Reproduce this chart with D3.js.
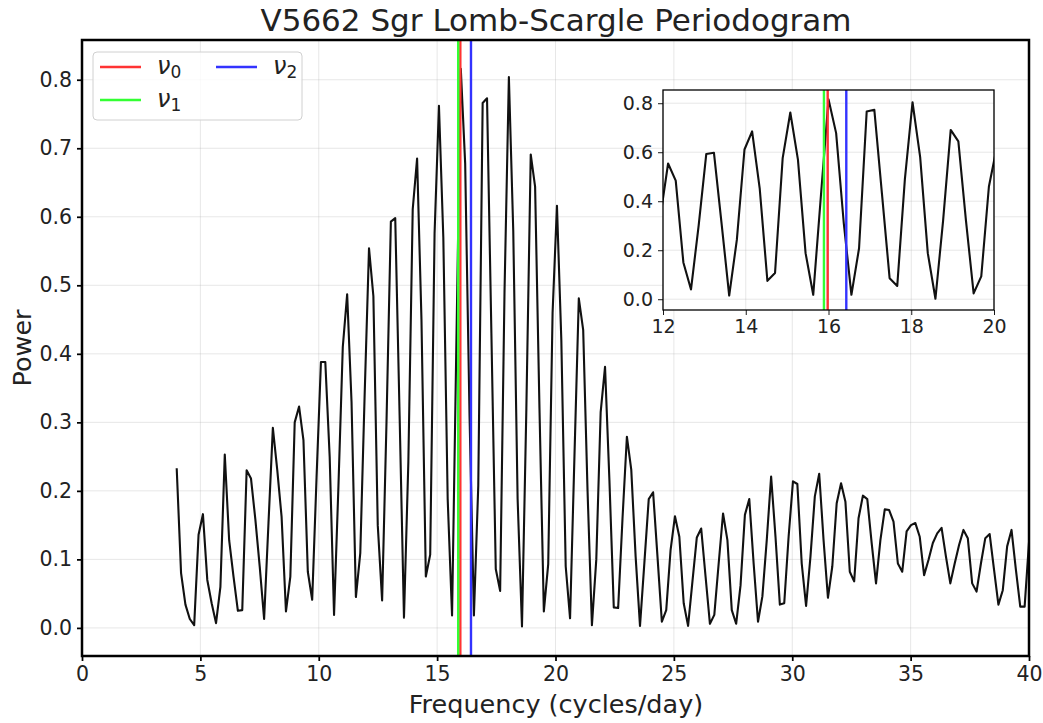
<!DOCTYPE html>
<html>
<head>
<meta charset="utf-8">
<script src="https://cdn.jsdelivr.net/npm/d3@7"></script>
<style>
  body { margin: 0; background: #fff; }
  text { font-family: "DejaVu Sans", sans-serif; fill: #222; }
</style>
</head>
<body>
<svg id="chart" width="1043" height="723"></svg>
<script>
// periodogram power, one value per frequency sample (4 .. 40 cycles/day)
const power = [
  0.233, 0.080, 0.034, 0.013, 0.004, 0.136, 0.166, 0.070, 0.036, 0.007,
  0.060, 0.253, 0.128, 0.075, 0.025, 0.026, 0.230, 0.218, 0.158, 0.089,
  0.013, 0.153, 0.292, 0.231, 0.162, 0.024, 0.075, 0.300, 0.323, 0.274,
  0.082, 0.041, 0.220, 0.388, 0.388, 0.250, 0.019, 0.206, 0.410, 0.487,
  0.330, 0.045, 0.109, 0.340, 0.554, 0.484, 0.150, 0.040, 0.300, 0.593,
  0.598, 0.310, 0.015, 0.242, 0.611, 0.685, 0.450, 0.075, 0.107, 0.576,
  0.762, 0.570, 0.188, 0.018, 0.420, 0.816, 0.678, 0.310, 0.018, 0.208,
  0.766, 0.773, 0.430, 0.086, 0.054, 0.490, 0.804, 0.580, 0.188, 0.002,
  0.320, 0.691, 0.644, 0.320, 0.024, 0.093, 0.460, 0.616, 0.420, 0.090,
  0.014, 0.250, 0.481, 0.435, 0.200, 0.004, 0.100, 0.315, 0.381, 0.216,
  0.030, 0.029, 0.160, 0.279, 0.231, 0.104, 0.003, 0.095, 0.188, 0.198,
  0.104, 0.009, 0.026, 0.114, 0.163, 0.133, 0.036, 0.003, 0.068, 0.132,
  0.145, 0.075, 0.006, 0.019, 0.094, 0.167, 0.128, 0.026, 0.006, 0.062,
  0.165, 0.188, 0.094, 0.009, 0.046, 0.128, 0.221, 0.133, 0.034, 0.036,
  0.133, 0.214, 0.210, 0.094, 0.032, 0.104, 0.192, 0.225, 0.128, 0.044,
  0.090, 0.182, 0.211, 0.184, 0.082, 0.068, 0.160, 0.193, 0.188, 0.124,
  0.065, 0.128, 0.173, 0.172, 0.155, 0.094, 0.082, 0.141, 0.150, 0.153,
  0.133, 0.077, 0.099, 0.124, 0.138, 0.146, 0.104, 0.065, 0.094, 0.121,
  0.143, 0.131, 0.065, 0.053, 0.094, 0.131, 0.137, 0.085, 0.034, 0.055,
  0.119, 0.143, 0.085, 0.031, 0.031, 0.125
];
// evenly spaced frequency grid
const freqStart = 4, freqEnd = 40;
const freqs = d3.range(power.length).map(i => freqStart + i * (freqEnd - freqStart) / (power.length - 1));

// marked frequencies
const nuSubs = ["0", "1", "2"];
const nuFreqs = [15.98, 15.89, 16.43];
const nuColors = ["#ff3333", "#33ff33", "#3333ff"];

const xTicks = [0, 5, 10, 15, 20, 25, 30, 35, 40];
const yTicks = [0.0, 0.1, 0.2, 0.3, 0.4, 0.5, 0.6, 0.7, 0.8];
const insetXTicks = [12, 14, 16, 18, 20];
const insetYTicks = [0.0, 0.2, 0.4, 0.6, 0.8];

const svg = d3.select("#chart");
const pts = freqs.map((f, i) => ({ f: f, p: power[i] }));

function panel(id, box, xDom, yDom, xt, yt, xFmt, spine, fs) {
    const x = d3.scaleLinear().domain(xDom).range([box.l, box.r]);
    const y = d3.scaleLinear().domain(yDom).range([box.b, box.t]);
    const g = svg.append("g");

    g.append("rect").attr("x", box.l).attr("y", box.t)
        .attr("width", box.r - box.l).attr("height", box.b - box.t).attr("fill", "#fff");

    g.append("defs").append("clipPath").attr("id", id)
        .append("rect").attr("x", box.l).attr("y", box.t)
        .attr("width", box.r - box.l).attr("height", box.b - box.t);

    // grid
    g.append("g").selectAll("line").data(xt).join("line")
        .attr("x1", d => x(d)).attr("x2", d => x(d)).attr("y1", box.t).attr("y2", box.b)
        .attr("stroke", "#b0b0b0").attr("stroke-opacity", 0.3).attr("stroke-width", 1);
    g.append("g").selectAll("line").data(yt).join("line")
        .attr("y1", d => y(d)).attr("y2", d => y(d)).attr("x1", box.l).attr("x2", box.r)
        .attr("stroke", "#b0b0b0").attr("stroke-opacity", 0.3).attr("stroke-width", 1);

    const plot = g.append("g").attr("clip-path", `url(#${id})`);
    plot.append("path").datum(pts)
        .attr("d", d3.line().x(d => x(d.f)).y(d => y(d.p)))
        .attr("fill", "none").attr("stroke", "#111").attr("stroke-width", 2.1)
        .attr("stroke-linejoin", "round");
    plot.selectAll(".nu").data(nuFreqs).join("line")
        .attr("x1", d => x(d)).attr("x2", d => x(d)).attr("y1", box.t).attr("y2", box.b)
        .attr("stroke", (d, i) => nuColors[i]).attr("stroke-width", 2.4);

    const xAxis = d3.axisBottom(x).tickValues(xt).tickFormat(xFmt).tickSize(5).tickPadding(5);
    const yAxis = d3.axisLeft(y).tickValues(yt).tickFormat(d3.format(".1f")).tickSize(5).tickPadding(5);
    const ax = g.append("g").attr("transform", `translate(0,${box.b})`).call(xAxis);
    const ay = g.append("g").attr("transform", `translate(${box.l},0)`).call(yAxis);
    [ax, ay].forEach(a => {
        a.select(".domain").remove();
        a.selectAll("line").attr("stroke", "#000").attr("stroke-width", spine * 0.7);
        a.selectAll("text").attr("font-size", fs).attr("fill", "#222")
            .style("font-family", '"DejaVu Sans", sans-serif');
    });

    g.append("rect").attr("x", box.l).attr("y", box.t)
        .attr("width", box.r - box.l).attr("height", box.b - box.t)
        .attr("fill", "none").attr("stroke", "#000").attr("stroke-width", spine);
    return { x, y };
}

// main axes
panel("clipMain", { l: 82, r: 1029, t: 40, b: 656 }, [0, 40], [-0.041, 0.858],
      xTicks, yTicks, d3.format("d"), 2.5, 20.5);

// legend
const leg = svg.append("g");
leg.append("rect").attr("x", 93).attr("y", 52).attr("width", 209).attr("height", 68)
    .attr("rx", 4).attr("fill", "#fff").attr("fill-opacity", 0.8)
    .attr("stroke", "#d0d0d0").attr("stroke-width", 1);
const legPos = [[100, 67], [100, 100], [216, 67]];
nuSubs.forEach((s, i) => {
    const [lx, ly] = legPos[i];
    leg.append("line").attr("x1", lx).attr("x2", lx + 41).attr("y1", ly).attr("y2", ly)
        .attr("stroke", nuColors[i]).attr("stroke-width", 2.4);
    const t = leg.append("text").attr("x", lx + 57).attr("y", ly + 7).attr("font-size", 24);
    t.append("tspan").attr("font-style", "italic").text("ν");
    t.append("tspan").attr("font-size", 17).attr("dy", 4).text(s);
});

// title and axis labels
svg.append("text").attr("x", 556).attr("y", 31).attr("text-anchor", "middle")
    .attr("font-size", 31).text("V5662 Sgr Lomb-Scargle Periodogram");
svg.append("text").attr("x", 556).attr("y", 713).attr("text-anchor", "middle")
    .attr("font-size", 25.5).text("Frequency (cycles/day)");
svg.append("text").attr("transform", "translate(31,348) rotate(-90)").attr("text-anchor", "middle")
    .attr("font-size", 25.5).text("Power");

// inset zoom on 12-20 cycles/day
panel("clipInset", { l: 663, r: 994, t: 90, b: 310 }, [12, 20], [-0.044, 0.854],
      insetXTicks, insetYTicks, d3.format("d"), 1.3, 19);
</script>
</body>
</html>
